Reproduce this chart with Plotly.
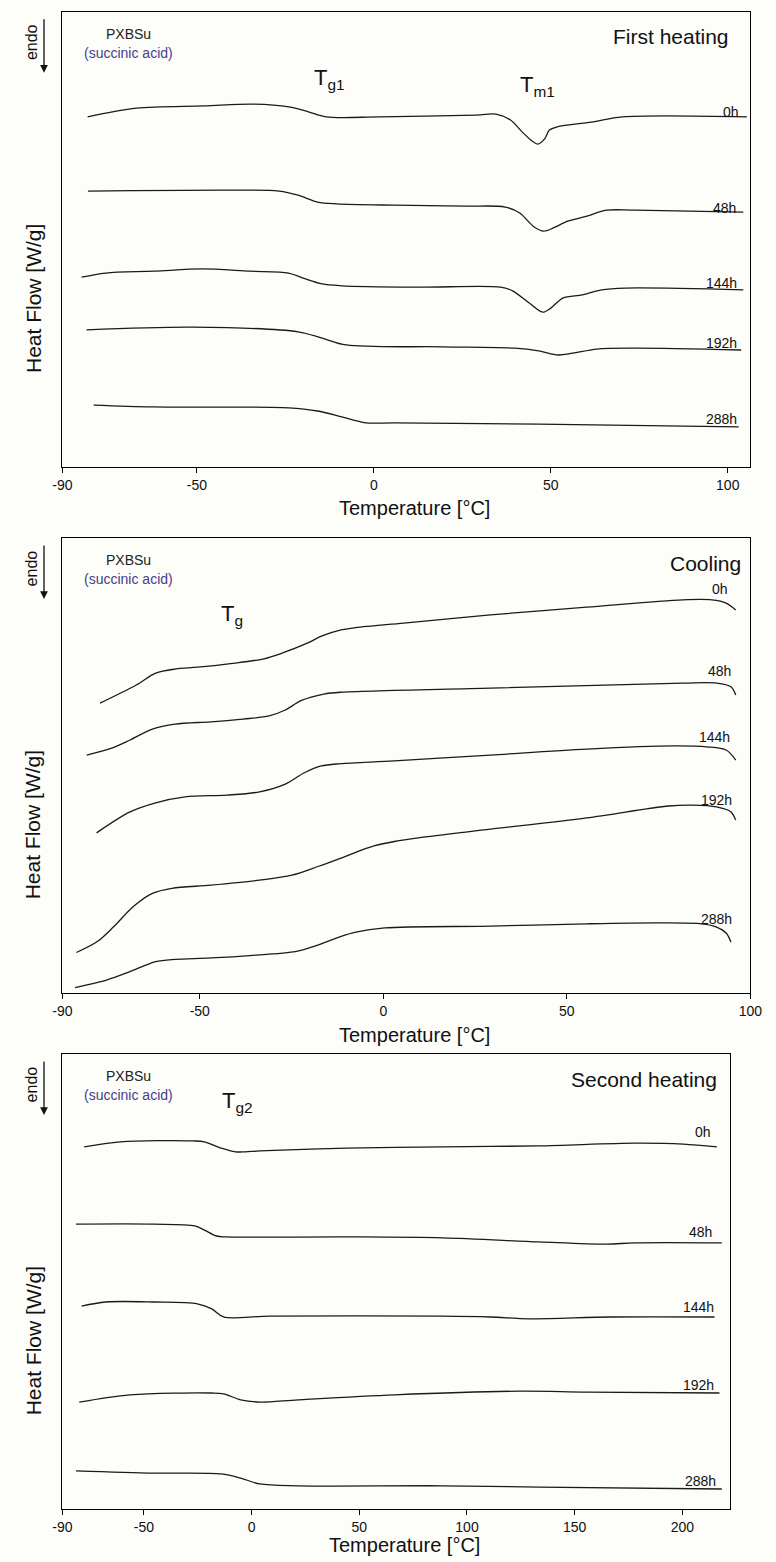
import plotly.graph_objects as go

W, H = 776, 1562
FONT = "Liberation Sans, Arial, sans-serif"
BG = "#fdfdf9"
LINE = "#1a1a1a"
PURPLE = "#4a3b8c"

series_names = ["0h", "48h", "144h", "192h", "288h"]

# ---------------- First heating ----------------
h1_T = {
    "0h": [-80.9, -67.1, -48.0, -34.2, -24.0, -18.5, -13.5, 1.6, 29.0, 34.5, 38.6, 41.9, 44.7, 46.3, 48.2, 49.6, 51.8, 62.0, 70.2, 105.4],
    "48h": [-80.8, -40.4, -26.8, -21.4, -15.9, -10.5, 5.8, 26.2, 37.1, 41.2, 45.3, 48.0, 50.7, 54.8, 60.2, 65.7, 73.8, 104.4],
    "144h": [-82.6, -75.8, -62.2, -48.6, -35.0, -24.1, -20.0, -14.6, -9.1, 12.6, 35.8, 39.2, 43.9, 47.7, 50.0, 53.4, 58.9, 64.3, 71.1, 104.4],
    "192h": [-81.2, -51.3, -21.4, -14.6, -7.8, 19.4, 39.8, 46.6, 52.1, 56.2, 63.0, 73.8, 103.8],
    "288h": [-79.2, -62.2, -24.1, -15.9, -9.1, -2.3, 5.8, 46.6, 103.1],
}
h1_HF = {
    "0h": [7.69, 7.88, 7.93, 7.97, 7.91, 7.80, 7.69, 7.69, 7.73, 7.75, 7.62, 7.36, 7.16, 7.09, 7.20, 7.40, 7.47, 7.58, 7.69, 7.69],
    "48h": [6.06, 6.08, 6.06, 5.97, 5.82, 5.78, 5.75, 5.73, 5.71, 5.58, 5.27, 5.18, 5.25, 5.40, 5.51, 5.64, 5.64, 5.60],
    "144h": [4.17, 4.26, 4.30, 4.35, 4.30, 4.26, 4.15, 4.02, 3.98, 3.95, 3.95, 3.87, 3.60, 3.40, 3.49, 3.71, 3.78, 3.89, 3.93, 3.89],
    "192h": [3.01, 3.07, 2.97, 2.83, 2.68, 2.64, 2.61, 2.55, 2.46, 2.50, 2.59, 2.61, 2.57],
    "288h": [1.36, 1.32, 1.30, 1.23, 1.10, 0.97, 0.97, 0.94, 0.88],
}
h1_label_T = [100.9, 99.0, 98.3, 98.3, 98.3]
h1_label_HF = [7.80, 5.69, 4.04, 2.72, 1.05]
h1_range = [-88.0, 106.4]
h1_tickvals = [-88.0, -50, 0, 50, 100]
h1_ticktext = ["-90", "-50", "0", "50", "100"]

# ---------------- Cooling ----------------
c_T = {
    "0h": [-77.2, -67.3, -62.0, -56.7, -50.6, -41.6, -32.8, -27.6, -20.4, -16.7, -12.0, -7.5, 5.6, 29.2, 55.4, 81.6, 89.5, 93.4, 96.0],
    "48h": [-80.8, -73.4, -69.0, -62.9, -56.7, -47.0, -38.1, -31.1, -26.7, -22.3, -16.2, -11.7, 29.2, 81.6, 90.8, 94.7, 96.0],
    "144h": [-78.1, -69.0, -62.0, -54.0, -42.6, -33.7, -26.7, -21.5, -16.9, -11.7, 3.0, 29.2, 55.4, 79.0, 88.1, 93.4, 96.0],
    "192h": [-83.6, -77.9, -73.4, -68.1, -62.9, -57.6, -47.0, -33.7, -24.9, -17.8, -11.7, -6.0, -2.3, 3.0, 9.5, 29.2, 55.4, 77.7, 84.2, 90.8, 94.7, 96.0],
    "288h": [-84.0, -75.2, -69.0, -62.0, -56.7, -47.0, -33.7, -24.0, -18.7, -11.7, -7.5, 0.4, 29.2, 55.4, 75.0, 86.8, 90.8, 93.4, 94.7],
}
c_HF = {
    "0h": [6.37, 6.77, 7.03, 7.12, 7.16, 7.24, 7.34, 7.47, 7.70, 7.85, 7.97, 8.03, 8.13, 8.31, 8.48, 8.64, 8.64, 8.57, 8.42],
    "48h": [5.23, 5.40, 5.56, 5.80, 5.91, 5.96, 6.02, 6.09, 6.22, 6.43, 6.57, 6.61, 6.70, 6.81, 6.81, 6.73, 6.55],
    "144h": [3.52, 3.98, 4.18, 4.31, 4.35, 4.42, 4.59, 4.84, 4.99, 5.04, 5.10, 5.23, 5.36, 5.43, 5.41, 5.34, 5.12],
    "192h": [0.89, 1.13, 1.46, 1.90, 2.19, 2.30, 2.37, 2.48, 2.59, 2.78, 2.96, 3.14, 3.24, 3.33, 3.41, 3.60, 3.85, 4.11, 4.13, 4.09, 3.98, 3.80],
    "288h": [0.12, 0.29, 0.47, 0.69, 0.74, 0.77, 0.84, 0.91, 1.03, 1.24, 1.34, 1.43, 1.47, 1.52, 1.54, 1.52, 1.45, 1.32, 1.12],
}
c_label_T = [91.6, 91.6, 90.3, 90.8, 90.8]
c_label_HF = [8.88, 7.08, 5.63, 4.24, 1.63]
c_range = [-87.4, 100.0]
c_tickvals = [-87.4, -50, 0, 50, 100]
c_ticktext = ["-90", "-50", "0", "50", "100"]

# ---------------- Second heating ----------------
h2_T = {
    "0h": [-77.7, -61.0, -27.5, -21.9, -14.1, -7.4, -2.9, 3.8, 44.0, 88.7, 133.4, 178.0, 200.4, 216.0],
    "48h": [-81.5, -45.4, -26.4, -21.9, -16.3, -11.8, 44.0, 88.7, 133.4, 164.6, 178.0, 218.3],
    "144h": [-78.9, -67.7, -45.4, -25.2, -18.5, -13.0, 8.3, 88.7, 111.0, 128.9, 166.9, 214.9],
    "192h": [-80.0, -56.5, -18.5, -13.0, -5.1, 3.8, 21.7, 66.4, 124.4, 155.7, 217.2],
    "288h": [-81.5, -45.4, -14.1, -5.1, 3.8, 21.7, 88.7, 133.4, 218.3],
}
h2_HF = {
    "0h": [7.96, 8.07, 8.09, 8.07, 7.93, 7.85, 7.85, 7.87, 7.93, 7.96, 7.98, 8.04, 8.02, 7.96],
    "48h": [6.26, 6.26, 6.22, 6.13, 6.00, 5.98, 5.98, 5.96, 5.87, 5.82, 5.85, 5.85],
    "144h": [4.46, 4.55, 4.55, 4.51, 4.40, 4.22, 4.24, 4.24, 4.22, 4.18, 4.22, 4.22],
    "192h": [2.35, 2.51, 2.55, 2.53, 2.40, 2.35, 2.40, 2.51, 2.59, 2.57, 2.55],
    "288h": [0.84, 0.79, 0.77, 0.68, 0.55, 0.51, 0.51, 0.48, 0.44],
}
h2_label_T = [209.7, 208.4, 207.5, 207.5, 208.4]
h2_label_HF = [8.29, 6.09, 4.44, 2.73, 0.62]
h2_range = [-87.8, 222.1]
h2_tickvals = [-87.8, -50, 0, 50, 100, 150, 200]
h2_ticktext = ["-90", "-50", "0", "50", "100", "150", "200"]

panel_titles = ["First heating", "Cooling", "Second heating"]
transition_labels = ["T<sub>g1</sub>", "T<sub>m1</sub>", "T<sub>g</sub>", "T<sub>g2</sub>"]

# ---------------- layout geometry (pixels) ----------------
panels = [
    dict(T=h1_T, HF=h1_HF, lT=h1_label_T, lHF=h1_label_HF, rng=h1_range, tv=h1_tickvals, tt=h1_ticktext,
         left=54, right=762, top=11.7, bottom=467),
    dict(T=c_T, HF=c_HF, lT=c_label_T, lHF=c_label_HF, rng=c_range, tv=c_tickvals, tt=c_ticktext,
         left=54, right=762, top=538, bottom=993),
    dict(T=h2_T, HF=h2_HF, lT=h2_label_T, lHF=h2_label_HF, rng=h2_range, tv=h2_tickvals, tt=h2_ticktext,
         left=54, right=741, top=1054, bottom=1509),
]

def px(x):
    return x / W

def py(y):
    return 1 - y / H

fig = go.Figure()
annotations = []
layout_axes = {}

for i, p in enumerate(panels, start=1):
    xa = "x" if i == 1 else f"x{i}"
    ya = "y" if i == 1 else f"y{i}"
    for k, name in enumerate(series_names):
        fig.add_trace(go.Scatter(
            x=p["T"][name], y=p["HF"][name], mode="lines",
            line=dict(color=LINE, width=1.3, shape="spline", smoothing=0.9),
            xaxis=xa, yaxis=ya, showlegend=False, hoverinfo="skip"))
        annotations.append(dict(
            x=p["lT"][k], y=p["lHF"][k], xref=xa, yref=ya, text=name, showarrow=False,
            xanchor="center", yanchor="middle", font=dict(family=FONT, size=14, color="#111")))
    xkey = "xaxis" if i == 1 else f"xaxis{i}"
    ykey = "yaxis" if i == 1 else f"yaxis{i}"
    layout_axes[xkey] = dict(
        domain=[px(p["left"]), px(p["right"])], range=p["rng"], anchor=ya,
        tickmode="array", tickvals=p["tv"], ticktext=p["tt"],
        ticks="outside", ticklen=5, tickwidth=1, tickcolor="black",
        showline=True, linecolor="black", linewidth=1, mirror=True,
        showgrid=False, zeroline=False,
        tickfont=dict(family=FONT, size=14, color="#111"))
    layout_axes[ykey] = dict(
        domain=[py(p["bottom"]), py(p["top"])], range=[0, 10], anchor=xa,
        showticklabels=False, ticks="", showline=True, linecolor="black", linewidth=1,
        mirror=True, showgrid=False, zeroline=False)

    top = p["top"]
    # panel title
    title_right = [742, 754, 730][i - 1]
    annotations.append(dict(x=px(title_right), y=py(top + 25), xref="paper", yref="paper",
                            text=panel_titles[i - 1], showarrow=False, xanchor="right", yanchor="middle",
                            font=dict(family=FONT, size=21, color="#111")))
    # sample name
    annotations.append(dict(x=px(122), y=py(top + 22), xref="paper", yref="paper", text="PXBSu",
                            showarrow=False, xanchor="center", yanchor="middle",
                            font=dict(family=FONT, size=14, color="#222")))
    annotations.append(dict(x=px(122), y=py(top + 41), xref="paper", yref="paper", text="(succinic acid)",
                            showarrow=False, xanchor="center", yanchor="middle",
                            font=dict(family=FONT, size=14, color=PURPLE)))
    # endo text + arrow
    annotations.append(dict(x=px(22), y=py(top + 30), xref="paper", yref="paper", text="endo",
                            showarrow=False, textangle=-90, xanchor="center", yanchor="middle",
                            font=dict(family=FONT, size=16, color="#111")))
    annotations.append(dict(x=px(35), y=py(top + 61), xref="paper", yref="paper", text="",
                            showarrow=True, ax=0, ay=-55, axref="pixel", ayref="pixel",
                            arrowhead=2, arrowsize=1.2, arrowwidth=1.3, arrowcolor="#111"))
    # y title
    annotations.append(dict(x=px(24), y=py(top + 287), xref="paper", yref="paper", text="Heat Flow [W/g]",
                            showarrow=False, textangle=-90, xanchor="center", yanchor="middle",
                            font=dict(family=FONT, size=21, color="#111")))
    # x title
    xt_y = [508, 1035, 1545][i - 1]
    annotations.append(dict(x=px((p["left"] + p["right"]) / 2 + 8), y=py(xt_y), xref="paper", yref="paper",
                            text="Temperature [°C]", showarrow=False, xanchor="center", yanchor="middle",
                            font=dict(family=FONT, size=20, color="#111")))

# transition labels
trans_pos = [(317, 79, 22), (529, 86, 22), (221, 615, 22), (222, 1102, 22)]
for txt, (x, y, s) in zip(transition_labels, trans_pos):
    annotations.append(dict(x=px(x), y=py(y), xref="paper", yref="paper", text=txt, showarrow=False,
                            xanchor="left", yanchor="middle", xshift=-6,
                            font=dict(family=FONT, size=s, color="#111")))

fig.update_layout(
    width=W, height=H, margin=dict(l=0, r=0, t=0, b=0),
    paper_bgcolor=BG, plot_bgcolor=BG, showlegend=False,
    annotations=annotations, **layout_axes)

fig.write_html("out.html")
